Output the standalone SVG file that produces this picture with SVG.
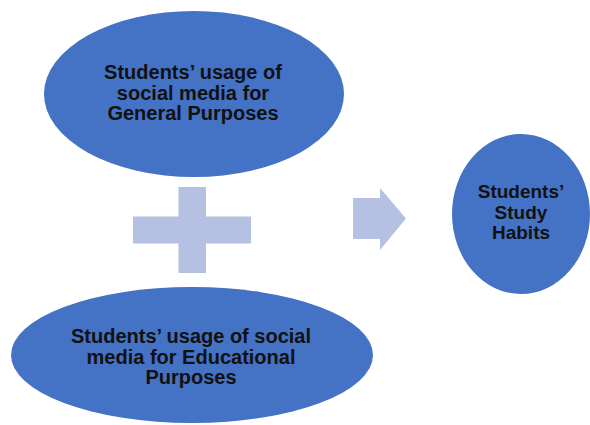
<svg xmlns="http://www.w3.org/2000/svg" width="590" height="425" viewBox="0 0 590 425">
<style>
.node{fill:#4472C4;}
.sym{fill:#B4C1E2;}
.lbl{font-family:"Liberation Sans",Arial,sans-serif;font-weight:bold;font-size:20px;fill:#111;text-anchor:middle;}
</style>
<rect width="590" height="425" fill="#fff"/>
<g id="node-general">
<ellipse class="node" cx="194" cy="94" rx="150" ry="83"/>
<text class="lbl"><tspan x="193" y="79">Students’ usage of</tspan><tspan x="193" y="99.5">social media for</tspan><tspan x="193" y="120">General Purposes</tspan></text>
</g>
<g id="node-educational">
<ellipse class="node" cx="192" cy="355" rx="181" ry="68"/>
<text class="lbl"><tspan x="191" y="343">Students’ usage of social</tspan><tspan x="191" y="363.5">media for Educational</tspan><tspan x="191" y="384">Purposes</tspan></text>
</g>
<g id="node-habits">
<ellipse class="node" cx="521" cy="214" rx="69" ry="80"/>
<text class="lbl" style="font-size:19px"><tspan x="521" y="198">Students’</tspan><tspan x="521" y="218.5">Study</tspan><tspan x="521" y="239">Habits</tspan></text>
</g>
<g id="connectors">
<path id="plus" class="sym" d="M178.5,187 H206 V216.5 H251 V243.5 H206 V273 H178.5 V243.5 H133 V216.5 H178.5 Z"/>
<path id="arrow" class="sym" d="M353,198 H380 V188 L406,218.5 L380,250 V239 H353 Z"/>
</g>
</svg>
